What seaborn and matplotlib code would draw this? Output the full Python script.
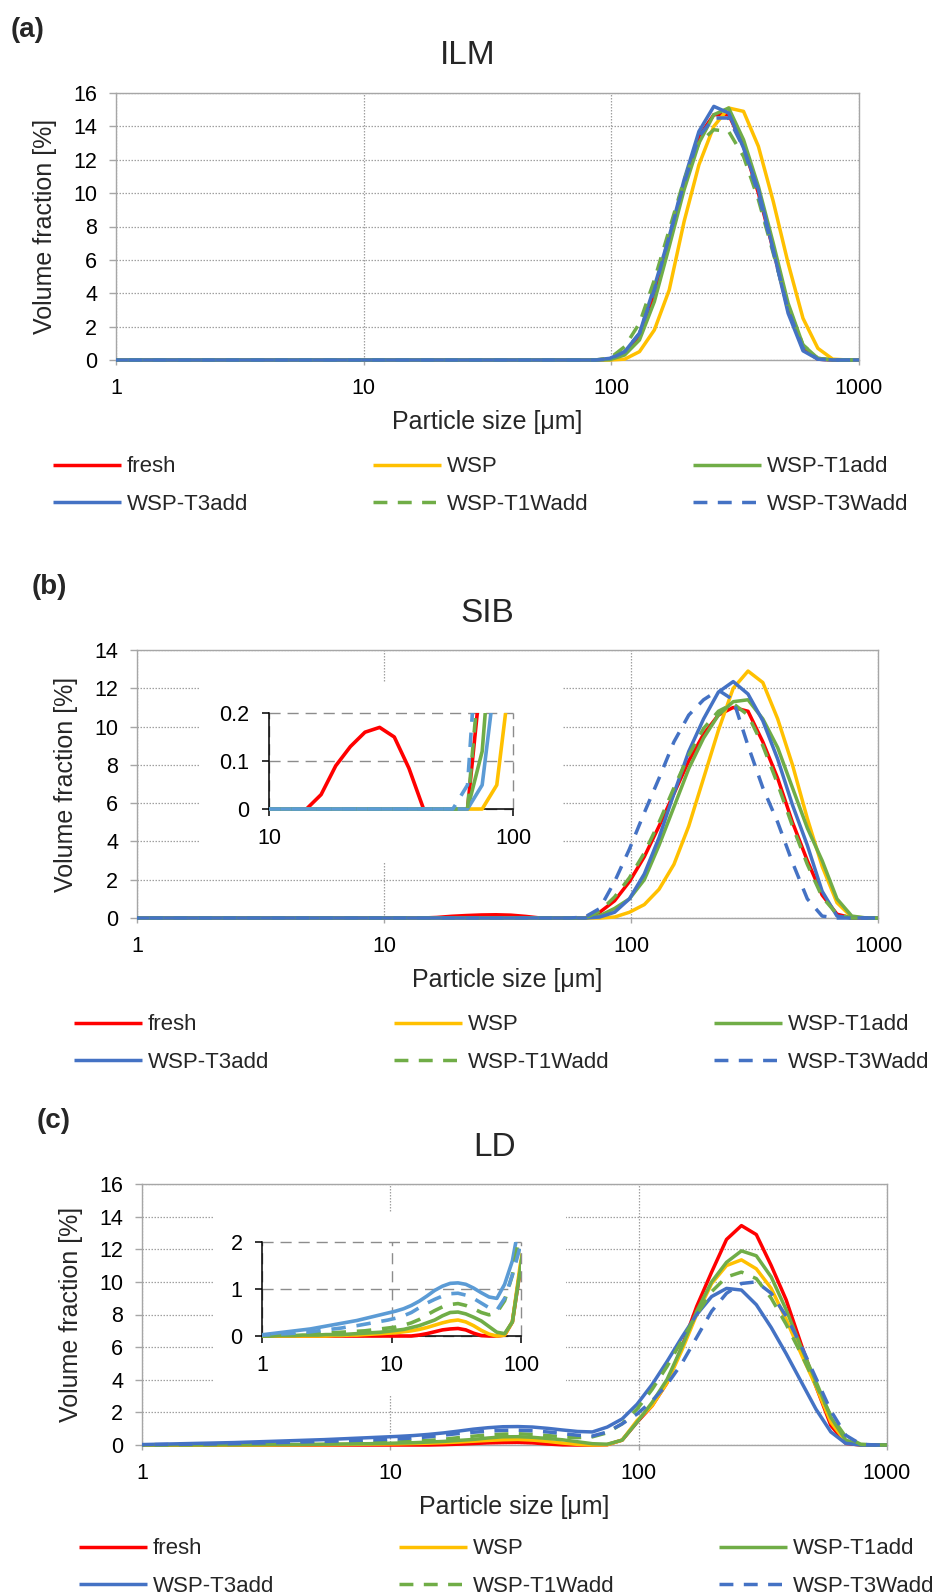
import matplotlib
matplotlib.use("Agg")
import matplotlib.pyplot as plt
import pandas as pd
import seaborn as sns
from matplotlib.lines import Line2D
from matplotlib.patches import Rectangle
from matplotlib.ticker import FixedLocator, FixedFormatter, NullLocator

# ---------------------------------------------------------------- data
# particle size classes [um]
size_um = [
    0.897, 1.030, 1.183, 1.358, 1.560, 1.791, 2.056, 2.361, 2.711, 3.113,
    3.574, 4.104, 4.712, 5.410, 6.212, 7.133, 8.190, 9.404, 10.80, 12.40,
    14.24, 16.35, 18.77, 21.55, 24.74, 28.41, 32.62, 37.45, 43.01, 49.38,
    56.70, 65.10, 74.75, 85.82, 98.54, 113.2, 129.9, 149.2, 171.3, 196.7,
    225.8, 259.3, 297.7, 341.8, 392.5, 450.6, 517.4, 594.1, 682.2, 783.3,
    899.3, 1032.6,
]

samples = ["fresh", "WSP", "WSP-T1add", "WSP-T3add", "WSP-T1Wadd", "WSP-T3Wadd"]

# (a) ILM, volume fraction [%]
ilm_fresh = [
    0, 0, 0, 0, 0, 0, 0, 0, 0, 0,
    0, 0, 0, 0, 0, 0, 0, 0, 0, 0,
    0, 0, 0, 0, 0, 0, 0, 0, 0, 0,
    0, 0, 0, 0, 0.05, 0.4, 1.5, 4.0, 7.2, 10.5,
    13.4, 14.7, 14.7, 12.8, 10.0, 6.6, 3.0, 0.7, 0.05, 0,
    0, 0,
]
ilm_wsp = [
    0, 0, 0, 0, 0, 0, 0, 0, 0, 0,
    0, 0, 0, 0, 0, 0, 0, 0, 0, 0,
    0, 0, 0, 0, 0, 0, 0, 0, 0, 0,
    0, 0, 0, 0, 0, 0.05, 0.5, 1.8, 4.2, 8.3,
    11.7, 14.0, 15.1, 14.9, 12.8, 9.5, 5.8, 2.5, 0.7, 0.05,
    0, 0,
]
ilm_t1add = [
    0, 0, 0, 0, 0, 0, 0, 0, 0, 0,
    0, 0, 0, 0, 0, 0, 0, 0, 0, 0,
    0, 0, 0, 0, 0, 0, 0, 0, 0, 0,
    0, 0, 0, 0, 0.02, 0.3, 1.2, 3.5, 6.8, 10.2,
    13.0, 14.7, 15.1, 13.2, 10.4, 7.0, 3.4, 0.9, 0.1, 0,
    0, 0,
]
ilm_t3add = [
    0, 0, 0, 0, 0, 0, 0, 0, 0, 0,
    0, 0, 0, 0, 0, 0, 0, 0, 0, 0,
    0, 0, 0, 0, 0, 0, 0, 0, 0, 0,
    0, 0, 0, 0, 0.1, 0.5, 1.6, 4.4, 7.4, 10.8,
    13.7, 15.2, 14.8, 12.7, 10.2, 6.6, 2.8, 0.55, 0.05, 0,
    0, 0,
]
ilm_t1wadd = [
    0, 0, 0, 0, 0, 0, 0, 0, 0, 0,
    0, 0, 0, 0, 0, 0, 0, 0, 0, 0,
    0, 0, 0, 0, 0, 0, 0, 0, 0, 0,
    0, 0, 0, 0, 0.1, 0.8, 2.2, 4.8, 7.8, 10.8,
    13.0, 13.8, 13.7, 12.2, 9.6, 6.4, 3.2, 0.9, 0.1, 0,
    0, 0,
]
ilm_t3wadd = [
    0, 0, 0, 0, 0, 0, 0, 0, 0, 0,
    0, 0, 0, 0, 0, 0, 0, 0, 0, 0,
    0, 0, 0, 0, 0, 0, 0, 0, 0, 0,
    0, 0, 0, 0, 0.05, 0.5, 1.6, 4.2, 7.4, 10.6,
    13.4, 14.5, 14.5, 12.7, 9.9, 6.5, 3.0, 0.7, 0.05, 0,
    0, 0,
]

# (b) SIB
sib_fresh = [
    0, 0, 0, 0, 0, 0, 0, 0, 0, 0,
    0, 0, 0, 0, 0, 0, 0, 0, 0, 0,
    0, 0.03, 0.09, 0.13, 0.16, 0.17, 0.15, 0.085, 0, 0,
    0, 0, 0.3, 0.9, 1.9, 3.2, 4.8, 6.5, 8.2, 9.6,
    10.6, 11.0, 10.8, 9.2, 7.3, 5.0, 3.0, 1.2, 0.2, 0,
    0, 0,
]
sib_wsp = [
    0, 0, 0, 0, 0, 0, 0, 0, 0, 0,
    0, 0, 0, 0, 0, 0, 0, 0, 0, 0,
    0, 0, 0, 0, 0, 0, 0, 0, 0, 0,
    0, 0, 0, 0.05, 0.3, 0.7, 1.5, 2.8, 4.8, 7.3,
    9.8, 12.0, 12.9, 12.3, 10.4, 8.0, 5.2, 2.7, 0.8, 0.05,
    0, 0,
]
sib_t1add = [
    0, 0, 0, 0, 0, 0, 0, 0, 0, 0,
    0, 0, 0, 0, 0, 0, 0, 0, 0, 0,
    0, 0, 0, 0, 0, 0, 0, 0, 0, 0,
    0, 0, 0.12, 0.5, 1.0, 2.0, 3.8, 5.8, 7.8, 9.4,
    10.6, 11.3, 11.4, 10.4, 8.9, 6.8, 4.7, 3.0, 1.0, 0.1,
    0, 0,
]
sib_t3add = [
    0, 0, 0, 0, 0, 0, 0, 0, 0, 0,
    0, 0, 0, 0, 0, 0, 0, 0, 0, 0,
    0, 0, 0, 0, 0, 0, 0, 0, 0, 0,
    0, 0, 0.05, 0.3, 1.0, 2.3, 4.2, 6.5, 8.7, 10.4,
    11.8, 12.35, 11.7, 10.3, 8.3, 5.9, 3.8, 1.4, 0.1, 0,
    0, 0,
]
sib_t1wadd = [
    0, 0, 0, 0, 0, 0, 0, 0, 0, 0,
    0, 0, 0, 0, 0, 0, 0, 0, 0, 0,
    0, 0, 0, 0, 0, 0, 0, 0, 0, 0,
    0, 0, 0.35, 1.1, 2.1, 3.4, 5.0, 6.8, 8.5, 9.9,
    10.8, 11.2, 10.6, 9.0, 7.0, 4.8, 2.8, 1.1, 0.2, 0,
    0, 0,
]
sib_t3wadd = [
    0, 0, 0, 0, 0, 0, 0, 0, 0, 0,
    0, 0, 0, 0, 0, 0, 0, 0, 0, 0,
    0, 0, 0, 0, 0, 0, 0, 0, 0, 0,
    0, 0.05, 0.5, 1.9, 3.6, 5.5, 7.3, 9.2, 10.6, 11.4,
    11.9, 11.4, 9.0, 6.8, 5.0, 2.9, 1.0, 0.1, 0, 0,
    0, 0,
]

# (c) LD
ld_fresh = [
    0, 0, 0, 0, 0, 0, 0, 0, 0, 0,
    0, 0, 0, 0, 0, 0, 0, 0, 0, 0,
    0, 0.02, 0.05, 0.09, 0.13, 0.15, 0.16, 0.13, 0.06, 0.01,
    0, 0, 0.02, 0.3, 1.4, 2.4, 3.8, 6.0, 8.5, 10.6,
    12.6, 13.45, 12.9, 11.0, 8.9, 6.2, 3.6, 1.2, 0.1, 0,
    0, 0,
]
ld_wsp = [
    0, 0, 0, 0, 0, 0, 0, 0, 0, 0,
    0.01, 0.01, 0.02, 0.02, 0.03, 0.04, 0.05, 0.06, 0.07, 0.09,
    0.11, 0.14, 0.18, 0.23, 0.28, 0.32, 0.34, 0.30, 0.22, 0.12,
    0.04, 0, 0.02, 0.3, 1.5, 2.4, 3.8, 5.8, 8.0, 9.9,
    11.0, 11.35, 10.8, 9.6, 7.7, 5.6, 3.6, 1.4, 0.2, 0,
    0, 0,
]
ld_t1add = [
    0, 0, 0, 0.01, 0.01, 0.01, 0.02, 0.02, 0.02, 0.03,
    0.03, 0.03, 0.04, 0.05, 0.06, 0.07, 0.08, 0.10, 0.12, 0.14,
    0.18, 0.22, 0.28, 0.34, 0.43, 0.50, 0.51, 0.47, 0.40, 0.32,
    0.20, 0.08, 0.05, 0.3, 1.4, 2.6, 4.0, 6.0, 8.2, 10.0,
    11.2, 11.9, 11.6, 10.3, 8.3, 6.0, 3.9, 1.7, 0.3, 0,
    0, 0,
]
ld_t3add = [
    0.02, 0.03, 0.05, 0.07, 0.09, 0.11, 0.13, 0.15, 0.18, 0.21,
    0.24, 0.27, 0.30, 0.33, 0.37, 0.41, 0.45, 0.49, 0.53, 0.58,
    0.65, 0.74, 0.85, 0.97, 1.06, 1.12, 1.13, 1.10, 1.02, 0.92,
    0.83, 0.80, 1.1, 1.6, 2.5, 3.7, 5.1, 6.6, 8.0, 9.1,
    9.6, 9.5, 8.6, 7.2, 5.6, 3.9, 2.2, 0.8, 0.1, 0,
    0, 0,
]
ld_t1wadd = [
    0, 0.01, 0.01, 0.02, 0.02, 0.03, 0.03, 0.04, 0.05, 0.06,
    0.07, 0.08, 0.09, 0.10, 0.11, 0.13, 0.15, 0.17, 0.19, 0.23,
    0.28, 0.35, 0.45, 0.54, 0.62, 0.67, 0.69, 0.65, 0.58, 0.50,
    0.45, 0.50, 0.75, 1.3, 2.2, 3.4, 4.8, 6.4, 8.0, 9.4,
    10.3, 10.6, 10.2, 9.0, 7.4, 5.6, 3.7, 1.8, 0.5, 0.05,
    0, 0,
]
ld_t3wadd = [
    0.01, 0.02, 0.03, 0.04, 0.05, 0.06, 0.07, 0.09, 0.11, 0.13,
    0.15, 0.17, 0.20, 0.22, 0.25, 0.28, 0.31, 0.34, 0.38, 0.43,
    0.50, 0.60, 0.70, 0.78, 0.85, 0.90, 0.91, 0.87, 0.80, 0.70,
    0.60, 0.55, 0.8, 1.3, 1.9, 2.7, 3.7, 5.0, 6.6, 8.2,
    9.3, 9.9, 10.0, 9.3, 7.9, 6.1, 4.1, 2.1, 0.6, 0.05,
    0, 0,
]

# ---------------------------------------------------------------- style
W, H, DPI = 933, 1596, 100

main_colors = {"fresh": "#FF0000", "WSP": "#FFC000", "WSP-T1add": "#70AD47",
               "WSP-T3add": "#4472C4", "WSP-T1Wadd": "#70AD47", "WSP-T3Wadd": "#4472C4"}
inset_colors = dict(main_colors, **{"WSP-T3add": "#5B9BD5", "WSP-T3Wadd": "#5B9BD5"})
dash_map = {"fresh": "", "WSP": "", "WSP-T1add": "", "WSP-T3add": "",
            "WSP-T1Wadd": (4, 3), "WSP-T3Wadd": (4, 3)}

sns.set_theme(style="white")
plt.rcParams["font.family"] = ["Liberation Sans", "DejaVu Sans"]
plt.rcParams["axes.unicode_minus"] = False

GRID = "#A0A0A0"
SPINE = "#A6A6A6"
LW = 2.5


def fig_rect(left, top, right, bottom):
    """pixel box (from top-left) -> figure fraction [x, y, w, h]"""
    return [left / W, 1 - bottom / H, (right - left) / W, (bottom - top) / H]


def long_table(columns):
    frames = [pd.DataFrame({"size": size_um, "fraction": vals, "sample": name})
              for name, vals in zip(samples, columns)]
    return pd.concat(frames, ignore_index=True)


def draw_lines(ax, df, palette, lw):
    sns.lineplot(data=df, x="size", y="fraction", hue="sample", style="sample",
                 hue_order=samples, style_order=samples, palette=palette,
                 dashes=dash_map, sort=False, estimator=None, linewidth=lw,
                 legend=False, ax=ax)
    for line in ax.get_lines():
        line.set_solid_capstyle("butt")
        line.set_zorder(3)
        line.set_clip_path(Rectangle((0, -0.05), 1, 1.05, transform=ax.transAxes))


def main_panel(fig, box, ymax, df, title, letter, legend_rows):
    left, top, right, bottom = box
    ax = fig.add_axes(fig_rect(*box))
    draw_lines(ax, df, main_colors, LW)
    ax.set_xscale("log")
    ax.set_xlim(1, 1000)
    ax.set_ylim(0, ymax)
    ax.xaxis.set_major_locator(FixedLocator([1, 10, 100, 1000]))
    ax.xaxis.set_major_formatter(FixedFormatter(["1", "10", "100", "1000"]))
    ax.xaxis.set_minor_locator(NullLocator())
    ax.set_yticks(range(0, ymax + 1, 2))
    ax.set_axisbelow(True)
    ax.grid(True, which="major", color=GRID, linewidth=0.9, linestyle=(0, (1.2, 1.2)))
    for sp in ax.spines.values():
        sp.set_color(SPINE)
        sp.set_linewidth(1.0)
    ax.tick_params(axis="y", direction="out", length=5, width=1, color=SPINE,
                   pad=8.5, labelsize=15.5, labelcolor="black", left=True)
    ax.tick_params(axis="x", direction="out", length=3.6, width=1, color=SPINE,
                   pad=9.5, labelsize=15.5, labelcolor="black", bottom=True)
    ax.set_xlabel("")
    ax.set_ylabel("")

    cx = (left + right) / 2
    cy = (top + bottom) / 2
    fig.text(left - 71, H - cy, "Volume fraction [%]", rotation=90, fontsize=18,
             ha="center", va="center", transform=None)
    fig.text(cx, H - (bottom + 62), "Particle size [μm]", fontsize=18,
             ha="center", va="center", transform=None)
    fig.text(cx - 20, H - (top - 37), title, fontsize=24, ha="center",
             va="center", transform=None)
    fig.text(left - 105, H - (top - 63), letter, fontsize=20, fontweight="bold",
             ha="left", va="center", transform=None,
             family=["Liberation Sans Narrow", "Liberation Sans", "DejaVu Sans"])

    # legend: three columns, two rows
    columns = [["fresh", "WSP-T3add"], ["WSP", "WSP-T1Wadd"], ["WSP-T1add", "WSP-T3Wadd"]]
    row_mid = (legend_rows[0] + legend_rows[1]) / 2
    for i, names in enumerate(columns):
        handles = []
        for n in names:
            h = Line2D([], [], color=main_colors[n], linewidth=LW,
                       solid_capstyle="butt", dash_capstyle="butt")
            if dash_map[n]:
                h.set_dashes(dash_map[n])
            handles.append(h)
        fig.legend(handles=handles, labels=names, loc="center left",
                   bbox_to_anchor=((left - 63 + i * 320) / W, 1 - row_mid / H),
                   frameon=False, fontsize=16, handlelength=3.05,
                   handletextpad=0.27, borderpad=0, borderaxespad=0,
                   labelspacing=0.73)
    return ax


def inset_panel(fig, cover, box, xlim, ylim, xticks, yticks, ylabels, df):
    # white block hiding the main gridlines
    blank = fig.add_axes(fig_rect(*cover))
    blank.set_xticks([])
    blank.set_yticks([])
    for sp in blank.spines.values():
        sp.set_visible(False)
    blank.set_facecolor("white")

    ax = fig.add_axes(fig_rect(*box))
    draw_lines(ax, df, inset_colors, 2.6)
    ax.set_xscale("log")
    ax.set_xlim(*xlim)
    ax.set_ylim(*ylim)
    ax.xaxis.set_major_locator(FixedLocator(xticks))
    ax.xaxis.set_major_formatter(FixedFormatter([f"{t:g}" for t in xticks]))
    ax.xaxis.set_minor_locator(NullLocator())
    ax.yaxis.set_major_locator(FixedLocator(yticks))
    ax.yaxis.set_major_formatter(FixedFormatter(ylabels))
    ax.set_axisbelow(True)
    ax.grid(True, color="#8C8C8C", linewidth=1.0, linestyle=(0, (8, 5)))
    for gl in ax.get_xgridlines() + ax.get_ygridlines():
        gl.set_clip_on(False)
    ax.spines["top"].set_visible(False)
    ax.spines["right"].set_visible(False)
    for s in ("left", "bottom"):
        ax.spines[s].set_color("black")
        ax.spines[s].set_linewidth(1.1)
    ax.tick_params(axis="both", direction="out", length=5, width=1.1, color="black",
                   labelsize=15.5, labelcolor="black", left=True, bottom=True)
    ax.tick_params(axis="y", pad=9)
    ax.tick_params(axis="x", pad=9)
    ax.set_xlabel("")
    ax.set_ylabel("")
    return ax


fig = plt.figure(figsize=(W / DPI, H / DPI), dpi=DPI)

ilm_df = long_table([ilm_fresh, ilm_wsp, ilm_t1add, ilm_t3add, ilm_t1wadd, ilm_t3wadd])
sib_df = long_table([sib_fresh, sib_wsp, sib_t1add, sib_t3add, sib_t1wadd, sib_t3wadd])
ld_df = long_table([ld_fresh, ld_wsp, ld_t1add, ld_t3add, ld_t1wadd, ld_t3wadd])

main_panel(fig, (116, 93, 859, 360), 16, ilm_df, "ILM", "(a)", (467, 504))
main_panel(fig, (137, 650, 878, 918), 14, sib_df, "SIB", "(b)", (1025, 1062))
main_panel(fig, (142, 1184, 887, 1445), 16, ld_df, "LD", "(c)", (1549, 1586))

inset_panel(fig, (200, 683, 562, 862), (269, 713, 513, 809), (10, 100), (0, 0.2),
            [10, 100], [0, 0.1, 0.2], ["0", "0.1", "0.2"], sib_df)
inset_panel(fig, (213, 1212, 566, 1395), (262, 1242, 521, 1336), (1, 100), (0, 2),
            [1, 10, 100], [0, 1, 2], ["0", "1", "2"], ld_df)

fig.savefig("out.png", dpi=DPI, facecolor="white")
